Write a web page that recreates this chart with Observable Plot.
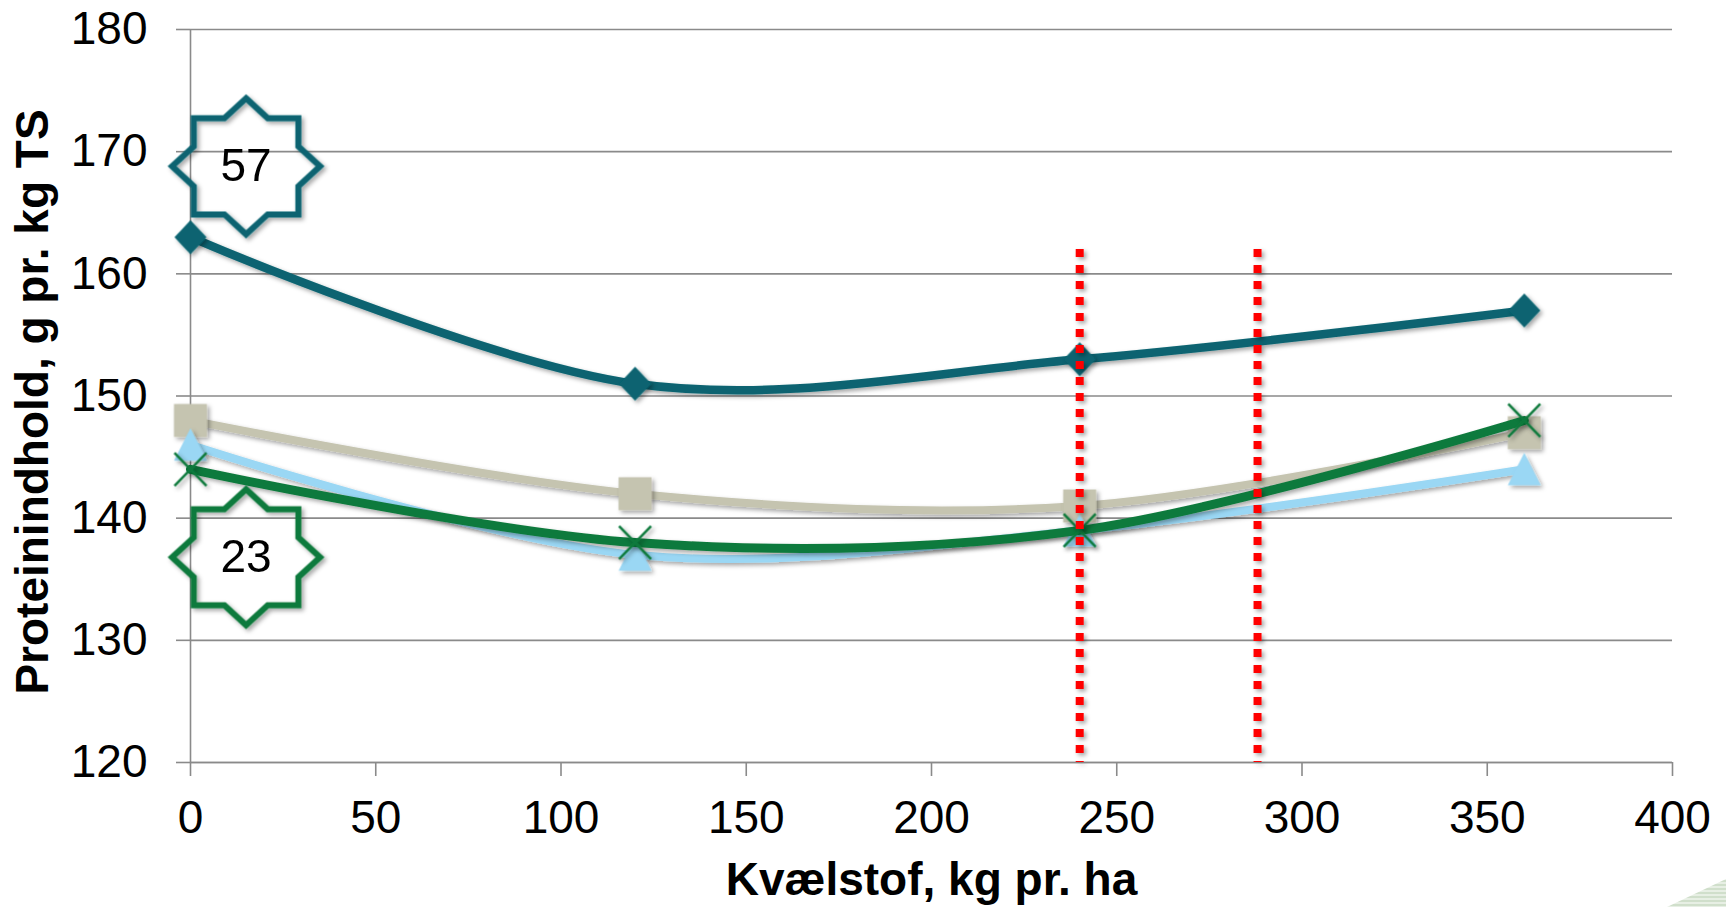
<!DOCTYPE html>
<html><head><meta charset="utf-8">
<script src="https://cdn.jsdelivr.net/npm/d3@7"></script>
<script src="https://cdn.jsdelivr.net/npm/@observablehq/plot@0.6"></script>
<style>
html,body{margin:0;padding:0;background:#fff;overflow:hidden}
#chart{position:relative;width:1726px;height:907px}
#corner{position:absolute;left:1660px;top:876px;width:66px;height:31px;clip-path:polygon(7px 31px,66px 3px,66px 31px);background:repeating-linear-gradient(to bottom,#d0dfcb 0 2px,#e7efe4 2px 4px)}
</style></head><body><div id="chart"><div id="corner"></div></div>
<script>
// ---- data ----
const nitrogen = [0, 120, 240, 360];
const seriesNames = ["A", "B", "C", "D"];
const tealValues = [163, 151, 153, 157];
const beigeValues = [148, 142, 141, 147];
const blueValues = [146, 137, 139, 144];
const greenValues = [144, 138, 139, 148];
const xTicks = [0, 50, 100, 150, 200, 250, 300, 350, 400];
const yTicks = [120, 130, 140, 150, 160, 170, 180];
const redLineX = [240, 288];
const redLineTop = 162;
const starLabels = ["57", "23"];
const starX = [15, 15];
const starY = [168.8, 136.8];
const xTitle = "Kvælstof, kg pr. ha";
const yTitle = "Proteinindhold, g pr. kg TS";

// ---- symbols ----
const diamondSym = {draw(c){c.moveTo(0,-17);c.lineTo(16,0);c.lineTo(0,17);c.lineTo(-16,0);c.closePath();}};
const squareSym = {draw(c){c.moveTo(-16.5,-16.5);c.lineTo(16.5,-16.5);c.lineTo(16.5,16.5);c.lineTo(-16.5,16.5);c.closePath();}};
const triSym = {draw(c){c.moveTo(0,-16.5);c.lineTo(16.5,16);c.lineTo(-16.5,16);c.closePath();}};
const xSym = {draw(c){c.moveTo(-16,-16.5);c.lineTo(16,16.5);c.moveTo(16,-16.5);c.lineTo(-16,16.5);}};
const starSym = {draw(c){
  const rx = 74, ry = 68;
  for (let k = 0; k < 16; k++) {
    const a = k * Math.PI / 8 - Math.PI / 2;
    const r = k % 2 === 0 ? 1 : 0.765;
    const px = Math.cos(a) * r * rx, py = Math.sin(a) * r * ry;
    if (k === 0) c.moveTo(px, py); else c.lineTo(px, py);
  }
  c.closePath();
}};

const series = [
  {name: seriesNames[0], values: tealValues, color: "#0a6471", symbol: diamondSym, fill: true, width: 8.5},
  {name: seriesNames[1], values: beigeValues, color: "#c5c4b0", symbol: squareSym, fill: true, width: 8},
  {name: seriesNames[2], values: blueValues, color: "#9ad7f4", symbol: triSym, fill: true, width: 8},
  {name: seriesNames[3], values: greenValues, color: "#117a3d", symbol: xSym, fill: false, width: 9}
];

const seriesMarks = [];
for (const s of series) {
  const rows = nitrogen.map((x, i) => ({x, y: s.values[i]}));
  seriesMarks.push(Plot.line(rows, {x: "x", y: "y", stroke: s.color, strokeWidth: s.width, curve: "cardinal", tension: 0}));
  seriesMarks.push(Plot.dot(rows, {x: "x", y: "y", r: 16, symbol: s.symbol,
    fill: s.fill ? s.color : "none", stroke: s.fill ? "none" : s.color, strokeWidth: 2.5}));
}

const stars = starLabels.map((t, i) => ({t, x: starX[i], y: starY[i], c: i === 0 ? "#0a6471" : "#117a3d"}));
const font = "Liberation Sans, Arial, Helvetica, sans-serif";

const chart = Plot.plot({
  width: 1726, height: 907,
  marginLeft: 190, marginRight: 54, marginTop: 29, marginBottom: 145,
  x: {domain: [0, 400]},
  y: {domain: [120, 180]},
  style: {fontFamily: font, fontSize: "46px", color: "#000", background: "transparent"},
  marks: [
    Plot.gridY(yTicks, {stroke: "#8a8a8a", strokeOpacity: 1, strokeWidth: 1.6}),
    Plot.axisY(yTicks, {tickSize: 14, tickPadding: 29, stroke: "#8a8a8a", strokeWidth: 1.6, fill: "#000", fontSize: 46, tickFormat: d => d, label: null}),
    Plot.axisX(xTicks, {tickSize: 14, tickPadding: 24, stroke: "#8a8a8a", strokeWidth: 1.6, fill: "#000", fontSize: 46, tickFormat: d => d, label: null}),
    Plot.ruleX([0], {stroke: "#8a8a8a", strokeWidth: 1.6}),
    Plot.ruleY([120], {stroke: "#8a8a8a", strokeWidth: 1.6}),
    ...seriesMarks,
    Plot.ruleX(redLineX, {y1: redLineTop, y2: 120, stroke: "#ff0000", strokeWidth: 8, strokeDasharray: "8,8"}),
    Plot.dot(stars, {x: "x", y: "y", r: 70, symbol: starSym, fill: "none", stroke: "c", strokeWidth: 6, strokeLinejoin: "miter"}),
    Plot.text(stars, {x: "x", y: "y", text: "t", fontSize: 46, fill: "#000"}),
    Plot.text([xTitle], {frameAnchor: "bottom", textAnchor: "middle", lineAnchor: "middle", dy: 118, text: d => d, fontSize: 46, fontWeight: "bold", fill: "#000"}),
    Plot.text([yTitle], {frameAnchor: "left", textAnchor: "middle", lineAnchor: "middle", dx: -157, dy: 6, rotate: -90, text: d => d, fontSize: 46, fontWeight: "bold", fill: "#000"})
  ]
});
chart.style.position = "absolute";
chart.style.left = "0";
chart.style.top = "0";
document.getElementById("chart").prepend(chart);

// Excel-like soft shadow on series lines, markers, red lines and stars
chart.insertAdjacentHTML("afterbegin",
  '<defs><filter id="sh" filterUnits="userSpaceOnUse" x="-50" y="-50" width="1826" height="1007">' +
  '<feDropShadow dx="2.5" dy="2.5" stdDeviation="2" flood-color="#000" flood-opacity="0.35"/></filter></defs>');
chart.querySelectorAll('g[aria-label="line"], g[aria-label="dot"]').forEach(g => g.setAttribute("filter", "url(#sh)"));
chart.querySelectorAll('g[aria-label="rule"]').forEach(g => {
  if ((g.getAttribute("stroke") || "").toLowerCase() === "#ff0000") g.setAttribute("filter", "url(#sh)");
});
</script>
</body></html>
